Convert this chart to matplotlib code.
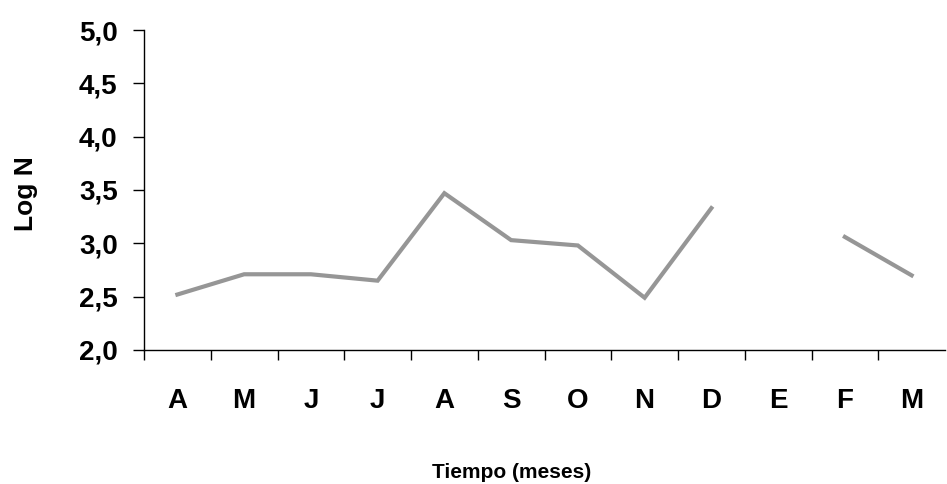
import numpy as np
import matplotlib; matplotlib.use("Agg")
import matplotlib.pyplot as plt
from matplotlib.ticker import FuncFormatter, FixedLocator

months = ["A", "M", "J", "J", "A", "S", "O", "N", "D", "E", "F", "M"]
log_n = [2.52, 2.71, 2.71, 2.65, 3.47, 3.03, 2.98, 2.49, 3.33, np.nan, 3.06, 2.70]

plt.rcParams["font.family"] = ["Liberation Sans", "DejaVu Sans"]
plt.rcParams["font.weight"] = "bold"

fig = plt.figure(figsize=(9.47, 4.84), dpi=100)
ax = fig.add_axes([144/947, 1 - 350/484, (945 - 144)/947, 320/484])

x = np.arange(len(months))
ax.plot(x, log_n, color="#969696", lw=3, solid_joinstyle="miter")

ax.set_xlim(-0.5, len(months) - 0.5)
ax.set_ylim(2.0, 5.0)
ax.set_yticks(np.arange(2.0, 5.01, 0.5))
ax.yaxis.set_major_formatter(FuncFormatter(lambda v, p: f"{v:.1f}".replace(".", ",")))
ax.set_xticks(x)
ax.set_xticklabels(months)
ax.xaxis.set_minor_locator(FixedLocator(np.arange(-0.5, len(months) - 0.5, 1.0)))
ax.tick_params(axis="x", which="major", length=0, pad=27, labelsize=20)
ax.tick_params(axis="x", which="minor", length=7.5, width=1, direction="out")
ax.tick_params(axis="y", length=8, width=1, direction="out", pad=11, labelsize=20)

for s in ["top", "right"]:
    ax.spines[s].set_visible(False)
for s in ["left", "bottom"]:
    ax.spines[s].set_linewidth(1)

# y label: right edge of the rotated text box sits at ~37 px
ax.set_ylabel("Log N", fontsize=19, fontweight="bold")
ax.yaxis.set_label_coords((38 - 144) / (945 - 144), (350 - 194) / 320)
fig.text(512/947, 1 - 478/484, "Tiempo (meses)", ha="center", va="baseline",
         fontsize=15, fontweight="bold")

fig.savefig("out.png", dpi=100)
